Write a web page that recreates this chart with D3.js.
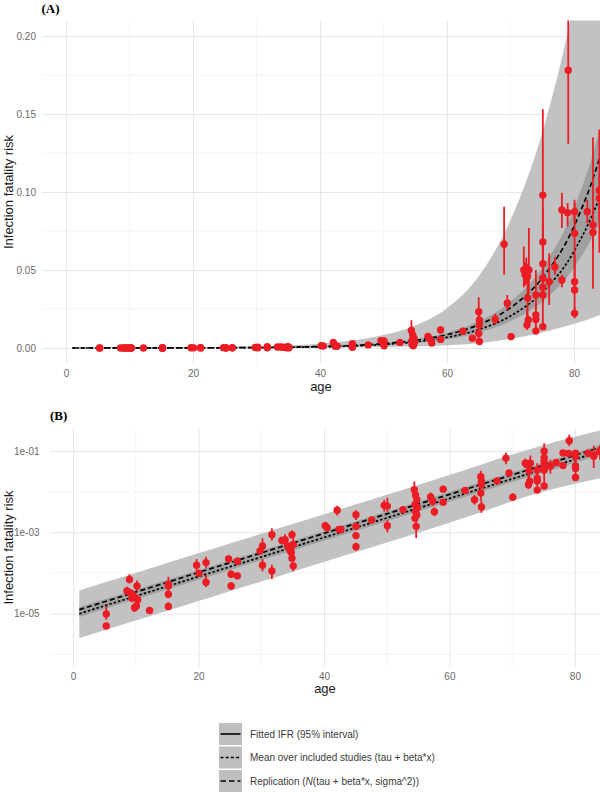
<!DOCTYPE html>
<html><head><meta charset="utf-8">
<script src="https://cdn.jsdelivr.net/npm/d3@7"></script>
<style>body{margin:0;background:#fff}text{font-family:"Liberation Sans",Arial,sans-serif}</style>
</head><body><svg id="c" width="600" height="794"></svg>
<script>
// ---- data ----
const bandAges = [1,5,10,15,20,25,30,35,40,45,50,55,60,65,70,75,80,85,90];
const meanIFR  = [1.00e-5,1.56e-5,2.70e-5,4.70e-5,8.17e-5,1.42e-4,2.47e-4,4.29e-4,7.45e-4,1.29e-3,2.25e-3,3.91e-3,6.79e-3,1.18e-2,2.05e-2,3.56e-2,6.19e-2,1.08e-1,1.87e-1];
const replMean = [1.26e-5,1.96e-5,3.40e-5,5.92e-5,1.03e-4,1.79e-4,3.11e-4,5.40e-4,9.38e-4,1.63e-3,2.83e-3,4.92e-3,8.55e-3,1.49e-2,2.58e-2,4.48e-2,7.79e-2,1.36e-1,2.35e-1];
const fitLow   = [8.32e-6,1.30e-5,2.25e-5,3.91e-5,6.80e-5,1.18e-4,2.06e-4,3.57e-4,6.20e-4,1.07e-3,1.87e-3,3.25e-3,5.65e-3,9.82e-3,1.71e-2,2.96e-2,5.15e-2,8.99e-2,1.56e-1];
const fitHigh  = [1.45e-5,2.25e-5,3.90e-5,6.79e-5,1.18e-4,2.05e-4,3.57e-4,6.20e-4,1.08e-3,1.86e-3,3.25e-3,5.65e-3,9.81e-3,1.71e-2,2.96e-2,5.14e-2,8.94e-2,1.56e-1,2.70e-1];
const replLow  = [2.51e-6,3.92e-6,6.78e-6,1.18e-5,2.05e-5,3.56e-5,6.20e-5,1.08e-4,1.87e-4,3.24e-4,5.65e-4,9.81e-4,1.72e-3,3.10e-3,5.80e-3,1.00e-2,1.55e-2,2.30e-2,3.70e-2];
const replHigh = [3.72e-5,5.80e-5,1.00e-4,1.75e-4,3.04e-4,5.28e-4,9.18e-4,1.59e-3,2.77e-3,4.79e-3,8.36e-3,1.45e-2,2.55e-2,4.60e-2,8.20e-2,1.38e-1,2.22e-1,3.45e-1,5.40e-1];

const ptAge  = [5.3,5.3,8.6,9.0,9.2,9.4,9.6,9.8,10.2,10.3,10.1,12.2,15.2,15.2,15.2,15.2,19.7,20.1,21.2,21.2,
  24.8,25.2,25.2,26.2,26.2,29.8,30.2,30.2,31.7,31.7,33.3,33.8,34.2,34.6,34.9,35.1,34.9,35.1,34.8,
  40.2,40.5,42.1,42.4,42.7,45.1,45.1,45.1,45.1,47.6,49.6,50.1,50.1,52.6,
  54.4,54.6,54.8,54.5,54.9,54.6,54.8,54.5,54.7,57.0,57.3,57.6,59.0,59.0,62.5,64.0,
  65.0,65.1,65.1,65.0,65.1,67.6,69.0,69.5,70.1,72.1,72.5,72.9,72.3,72.7,72.7,72.8,72.6,
  74.0,74.0,74.0,74.0,75.1,75.1,75.1,75.1,75.1,75.1,75.1,76.1,77.0,78.1,78.1,79.1,79.0,
  80.1,80.1,80.1,80.1,80.1,82.1,83.0,83.0,84.0,84.0];
const ptIFR  = [9.8e-6,5.0e-6,3.6e-5,6.9e-5,3.2e-5,2.4e-5,2.8e-5,1.4e-5,4.8e-5,2.2e-5,1.55e-5,1.2e-5,5.2e-5,4.8e-5,3.0e-5,1.5e-5,1.55e-4,9.8e-5,1.8e-4,5.9e-5,
  2.2e-4,9.3e-5,4.8e-5,1.95e-4,8.5e-5,3.5e-4,4.6e-4,1.55e-4,8.7e-4,1.12e-4,6.3e-4,6.6e-4,4.6e-4,3.5e-4,8.7e-4,5.0e-4,2.3e-4,1.5e-4,3.2e-4,
  1.45e-3,1.3e-3,3.5e-3,1.17e-3,1.17e-3,2.7e-3,1.4e-3,8.3e-4,4.4e-4,2.0e-3,4.6e-3,4.4e-3,1.45e-3,3.6e-3,
  0.0112,8.3e-3,6.3e-3,4.8e-3,4.0e-3,3.2e-3,2.7e-3,2.2e-3,1.4e-3,7.4e-3,5.8e-3,3.2e-3,0.0115,5.5e-3,0.0107,6.3e-3,
  0.0233,0.0180,0.0147,0.0093,0.0042,0.0184,0.0665,0.0287,0.0073,0.050,0.049,0.050,0.047,0.046,0.032,0.018,0.0147,
  0.034,0.0212,0.0183,0.0109,0.098,0.068,0.054,0.0447,0.039,0.034,0.0137,0.0425,0.052,0.0885,0.0436,0.178,0.0867,
  0.0874,0.0735,0.0425,0.0372,0.0222,0.0874,0.0788,0.074,0.101,0.096];
const ptLow  = [7.1e-6,4.2e-6,2.9e-5,5.6e-5,2.6e-5,1.9e-5,2.2e-5,1.1e-5,3.6e-5,1.7e-5,1.2e-5,1.0e-5,4.0e-5,3.8e-5,2.4e-5,1.26e-5,1.1e-4,8.0e-5,1.3e-4,4.5e-5,
  1.8e-4,7.5e-5,3.9e-5,1.6e-4,7.0e-5,2.8e-4,3.2e-4,1.1e-4,6.3e-4,7.1e-5,5.0e-4,5.0e-4,3.7e-4,2.8e-4,7.0e-4,3.5e-4,1.9e-4,1.1e-4,2.6e-4,
  1.2e-3,1.05e-3,2.6e-3,9.5e-4,9.5e-4,2.0e-3,1.15e-3,6.8e-4,3.5e-4,1.65e-3,3.2e-3,3.2e-3,1.0e-3,3.0e-3,
  7.2e-3,6.8e-3,5.2e-3,4.0e-3,3.3e-3,2.6e-3,2.2e-3,1.8e-3,7.2e-4,6.0e-3,4.5e-3,2.5e-3,9.5e-3,4.5e-3,8.8e-3,4.8e-3,
  0.0155,0.0150,0.0122,0.006,0.003,0.015,0.047,0.024,0.006,0.039,0.041,0.035,0.040,0.039,0.020,0.015,0.0115,
  0.025,0.012,0.0153,0.0096,0.045,0.057,0.030,0.038,0.033,0.029,0.0115,0.0276,0.047,0.077,0.039,0.131,0.078,
  0.080,0.050,0.036,0.020,0.019,0.080,0.038,0.064,0.061,0.082];
const ptHigh = [1.5e-5,6.0e-6,4.6e-5,9.3e-5,4.0e-5,3.0e-5,3.5e-5,1.8e-5,6.5e-5,2.9e-5,2.0e-5,1.4e-5,8.1e-5,6.0e-5,3.8e-5,1.9e-5,2.2e-4,1.2e-4,2.5e-4,8.9e-5,
  2.7e-4,1.15e-4,5.9e-5,2.4e-4,1.05e-4,4.3e-4,7.1e-4,2.2e-4,1.26e-3,1.6e-4,7.8e-4,8.9e-4,5.7e-4,4.4e-4,1.1e-3,7.1e-4,2.9e-4,1.9e-4,3.9e-4,
  1.75e-3,1.6e-3,4.5e-3,1.4e-3,1.4e-3,3.5e-3,1.7e-3,1.0e-3,5.5e-4,2.4e-3,6.3e-3,7.1e-3,2.0e-3,4.3e-3,
  0.0178,0.010,7.6e-3,5.8e-3,4.8e-3,3.9e-3,3.3e-3,2.7e-3,2.0e-3,9.5e-3,7.6e-3,4.1e-3,0.014,6.6e-3,0.013,8.3e-3,
  0.0325,0.022,0.018,0.0135,0.006,0.022,0.0906,0.034,0.009,0.065,0.058,0.077,0.055,0.054,0.045,0.021,0.025,
  0.050,0.030,0.022,0.013,0.153,0.080,0.090,0.052,0.046,0.040,0.035,0.0607,0.058,0.0995,0.047,0.25,0.093,
  0.095,0.093,0.050,0.060,0.026,0.095,0.135,0.086,0.140,0.110];

const xTicks = [0,20,40,60,80];
const xMinor = [10,30,50,70];
const yTicksA = [0,0.05,0.10,0.15,0.20];
const yMinorA = [0.025,0.075,0.125,0.175];
const yTicksB = [1e-1,1e-3,1e-5];
const yMinorB = [1e-2,1e-4,1e-6];
const yLabelsB = ["1e-01","1e-03","1e-05"];
const legendLabels = ["Fitted IFR (95% interval)","Mean over included studies (tau + beta*x)","Replication (N(tau + beta*x, sigma^2))"];

// ---- styling ----
const C = {outer:"#c2c2c2", inner:"#a0a0a0", red:"#ec1c24", gridMaj:"#e6e6e6", gridMin:"#efefef", tick:"#6a6a6a", title:"#1a1a1a"};
const svg = d3.select("#c");
const band = bandAges.map((a,i)=>({a, m:meanIFR[i], r:replMean[i], fl:fitLow[i], fh:fitHigh[i], rl:replLow[i], rh:replHigh[i]}));
const pts = ptAge.map((a,i)=>({a, v:ptIFR[i], lo:ptLow[i], hi:ptHigh[i]}));

function panel(cfg){
  const {id,L,R,T,B,x,y,yTicks,yMinor,yFmt,yPad,xPad,label,labelX,labelY,xTitleY} = cfg;
  const g = svg.append("g");
  g.append("g").selectAll("line").data(xMinor).join("line")
    .attr("x1",d=>x(d)).attr("x2",d=>x(d)).attr("y1",T).attr("y2",B)
    .attr("stroke",C.gridMin).attr("stroke-width",0.6);
  g.append("g").selectAll("line").data(yMinor).join("line")
    .attr("y1",d=>y(d)).attr("y2",d=>y(d)).attr("x1",L).attr("x2",R)
    .attr("stroke",C.gridMin).attr("stroke-width",0.6);
  const gx = g.append("g").attr("transform",`translate(0,${B})`)
    .call(d3.axisBottom(x).tickValues(xTicks).tickSize(-(B-T)).tickFormat(""));
  gx.select(".domain").remove();
  gx.selectAll("line").attr("stroke",C.gridMaj).attr("stroke-width",1);
  const gy = g.append("g").attr("transform",`translate(${L},0)`)
    .call(d3.axisLeft(y).tickValues(yTicks).tickSize(-(R-L)).tickFormat(""));
  gy.select(".domain").remove();
  gy.selectAll("line").attr("stroke",C.gridMaj).attr("stroke-width",1);

  svg.append("clipPath").attr("id","clip"+id).append("rect")
    .attr("x",L).attr("y",T).attr("width",R-L).attr("height",B-T);
  const p = g.append("g").attr("clip-path",`url(#clip${id})`);
  const area = (lo,hi)=>d3.area().x(d=>x(d.a)).y0(d=>y(d[lo])).y1(d=>y(d[hi])).curve(d3.curveMonotoneX);
  p.append("path").datum(band).attr("d",area("rl","rh")).attr("fill",C.outer);
  p.append("path").datum(band).attr("d",area("fl","fh")).attr("fill",C.inner);
  const line = k=>d3.line().x(d=>x(d.a)).y(d=>y(d[k])).curve(d3.curveMonotoneX);
  p.append("path").datum(band).attr("d",line("m")).attr("fill","none").attr("stroke","#000")
    .attr("stroke-width",1.7).attr("stroke-dasharray","2.5,2");
  p.append("path").datum(band).attr("d",line("r")).attr("fill","none").attr("stroke","#000")
    .attr("stroke-width",1.7).attr("stroke-dasharray","5,3");
  p.append("g").selectAll("line").data(pts).join("line")
    .attr("x1",d=>x(d.a)).attr("x2",d=>x(d.a)).attr("y1",d=>y(d.lo)).attr("y2",d=>y(d.hi))
    .attr("stroke",C.red).attr("stroke-width",1.8);
  p.append("g").selectAll("circle").data(pts).join("circle")
    .attr("cx",d=>x(d.a)).attr("cy",d=>y(d.v)).attr("r",3.7).attr("fill",C.red);

  const ax = g.append("g").attr("transform",`translate(0,${B})`)
    .call(d3.axisBottom(x).tickValues(xTicks).tickSize(0).tickPadding(xPad).tickFormat(d3.format("d")));
  ax.select(".domain").remove();
  ax.selectAll("text").attr("fill",C.tick).attr("font-size",10).attr("font-family","Liberation Sans, Arial, sans-serif");
  const ay = g.append("g").attr("transform",`translate(${L},0)`)
    .call(d3.axisLeft(y).tickValues(yTicks).tickSize(0).tickPadding(yPad).tickFormat(yFmt));
  ay.select(".domain").remove();
  ay.selectAll("text").attr("fill",C.tick).attr("font-size",10).attr("font-family","Liberation Sans, Arial, sans-serif");

  g.append("text").attr("x",labelX).attr("y",labelY).text(label)
    .attr("font-weight","bold").attr("font-size",13).attr("fill","#000")
    .style("font-family","'Liberation Serif', 'Times New Roman', serif");
  g.append("text").attr("transform",`translate(13,${(T+B)/2}) rotate(-90)`).attr("text-anchor","middle")
    .attr("font-size",13).attr("fill",C.title).text("Infection fatality risk");
  g.append("text").attr("x",(L+R)/2).attr("y",xTitleY).attr("text-anchor","middle")
    .attr("font-size",13).attr("fill",C.title).text("age");
}

panel({id:"A", L:42, R:600, T:20.4, B:363.6,
  x:d3.scaleLinear().domain([-3.78,84.1]).range([42,600]),
  y:d3.scaleLinear().domain([-0.01,0.21]).range([363.6,20.4]),
  yTicks:yTicksA, yMinor:yMinorA, yFmt:d3.format(".2f"), yPad:6, xPad:6.6,
  label:"(A)", labelX:41.5, labelY:13, xTitleY:391});

panel({id:"B", L:50, R:600, T:428, B:667,
  x:d3.scaleLinear().domain([-3.67,84.0]).range([50,600]),
  y:d3.scaleLog().domain([Math.pow(10,-6.31),Math.pow(10,-0.437)]).range([667,428]),
  yTicks:yTicksB, yMinor:yMinorB, yFmt:d=>yLabelsB[yTicksB.indexOf(d)], yPad:10.5, xPad:5.5,
  label:"(B)", labelX:50, labelY:420, xTitleY:693});

const lg = svg.append("g");
const keyY = [723,746.5,770];
const dashes = [null,"3,2.2","5.5,3"];
legendLabels.forEach((lab,i)=>{
  lg.append("rect").attr("x",219).attr("y",keyY[i]).attr("width",23).attr("height",22).attr("fill","#bfbfbf");
  const ln = lg.append("line").attr("x1",220.5).attr("x2",240.5).attr("y1",keyY[i]+11).attr("y2",keyY[i]+11)
    .attr("stroke","#000").attr("stroke-width",1.6);
  if(dashes[i]) ln.attr("stroke-dasharray",dashes[i]);
  const t = lg.append("text").attr("x",250).attr("y",keyY[i]+14.5).attr("font-size",10).attr("fill","#3a3a3a");
  if(i===2){
    t.append("tspan").text("Replication (");
    t.append("tspan").attr("font-style","italic").text("N");
    t.append("tspan").text("(tau + beta*x, sigma^2))");
  } else t.text(lab);
});
</script></body></html>
